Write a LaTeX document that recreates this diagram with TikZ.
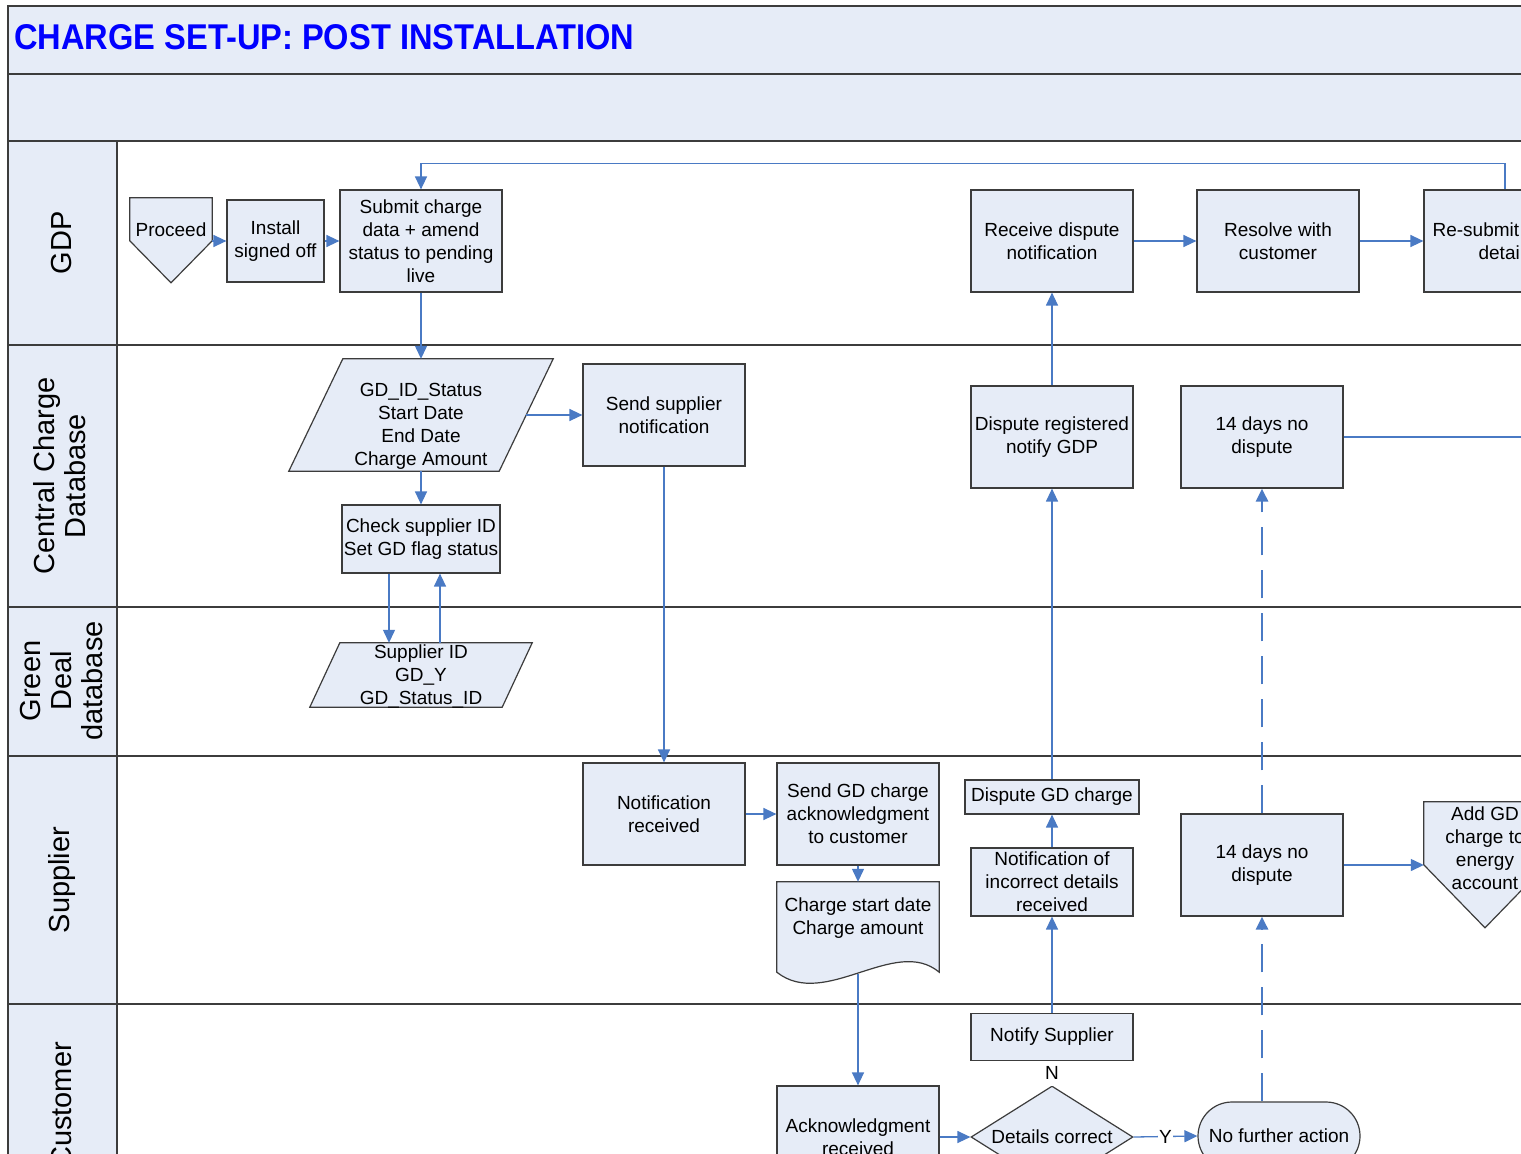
\documentclass[tikz,border=0pt]{standalone}
\usepackage{graphicx}
\usepackage{fontspec}
\setmainfont{Liberation Sans}
\usetikzlibrary{arrows.meta,shapes.geometric,calc,backgrounds}
\definecolor{boxfill}{HTML}{E6ECF7}
\definecolor{edge}{HTML}{3C3C3C}
\definecolor{flow}{HTML}{4A7AC4}
\definecolor{titleblue}{HTML}{0000FF}
\newcommand{\bodyfont}{\fontsize{19}{23}\selectfont}
\newcommand{\lanefont}{\fontsize{29}{31}\selectfont}

\begin{document}
\begin{tikzpicture}[x=1pt,y=-1pt,
  box/.style={draw=edge, fill=boxfill, line width=1.2pt, minimum width=162pt,
    minimum height=102pt, inner sep=2pt, align=center, font=\bodyfont},
  ghost/.style={inner sep=0pt, align=center, font=\bodyfont},
  outline/.style={draw=edge, fill=boxfill, line width=1.2pt},
  flowline/.style={draw=flow, line width=1.3pt},
  flowarrow/.style={flowline, -{Triangle[length=13pt,width=12pt]}},
  dashflow/.style={flowarrow, line width=2.8pt, dash pattern=on 28pt off 15pt},
  lanerule/.style={draw=edge, line width=1.8pt},
  lanelabel/.style={rotate=90, align=center, font=\lanefont},
  tag/.style={fill=white, font=\bodyfont, inner sep=1pt}
]
\useasboundingbox (0,0) rectangle (1521,1154);
\clip (0,0) rectangle (1521,1154);

% ---------- title ----------
\node[anchor=west, inner sep=0pt, text=titleblue] (title) at (14,37.5)
  {\resizebox{620pt}{25pt}{\bfseries CHARGE SET-UP: POST INSTALLATION}};

% ---------- lane labels ----------
\node[lanelabel] (lgdp) at (62,243) {GDP};
\node[lanelabel] (lccd) at (60,476) {Central Charge\\Database};
\node[lanelabel] (lgdd) at (62,681) {Green\\Deal\\database};
\node[lanelabel] (lsup) at (62,880) {Supplier};
\node[lanelabel] (lcus) at (62,1105) {Customer};

% ---------- GDP lane ----------
\node[ghost, minimum width=82pt, minimum height=64pt] (proceed) at (171,230) {Proceed};
\node[box, minimum width=97pt, minimum height=82pt] (install) at (275.5,241) {Install\\signed off};
\node[box] (submit) at (421,241) {Submit charge\\data + amend\\status to pending\\live};
\node[box] (recv) at (1052,241) {Receive dispute\\notification};
\node[box] (resolve) at (1278,241) {Resolve with\\customer};
\node[box] (resub) at (1505,241) {};
\node[ghost, anchor=west, align=left] (resubtext) at ($(resub.west)+(9,0)$)
  {Re-submit\\\hspace*{46pt}details};

% ---------- Central Charge Database lane ----------
\node[ghost, minimum width=210pt, minimum height=112pt,
  label={[ghost, yshift=-11pt]center:{GD\_ID\_Status\\Start Date\\End Date\\Charge Amount}}]
  (gdrec) at (421,415) {};
\node[box] (sendsup) at (664,415) {Send supplier\\notification};
\node[box, minimum width=158pt, minimum height=68pt, inner xsep=0pt] (check) at (421,539)
  {Check supplier ID\\Set GD flag status};
\node[box] (dispreg) at (1052,437) {Dispute registered\\notify GDP};
\node[box] (days1) at (1262,437) {14 days no\\dispute};

% ---------- Green Deal database lane ----------
\node[ghost, minimum width=192pt, minimum height=64pt,
  label={[ghost, yshift=-1pt]center:{Supplier ID\\GD\_Y\\GD\_Status\_ID}}]
  (supid) at (421,675) {};

% ---------- Supplier lane ----------
\node[box] (notrec) at (664,814) {Notification\\received};
\node[box] (sendgd) at (858,814) {Send GD charge\\acknowledgment\\to customer};
\node[ghost, minimum width=162pt, minimum height=72pt,
  label={[ghost]center:{Charge start date\\Charge amount}}] (doc) at (858,918) {};
\node[box, minimum width=174pt, minimum height=34pt] (dispgd) at (1052,797) {Dispute GD charge};
\node[box, minimum height=68pt] (notinc) at (1052,882) {Notification of\\incorrect details\\received};
\node[box] (days2) at (1262,865) {14 days no\\dispute};
\node[ghost, minimum width=122pt, minimum height=92pt,
  label={[ghost]center:{Add GD\\charge to\\energy\\account}}] (addgd) at (1485,848) {};

% ---------- Customer lane ----------
\node[box, minimum height=47pt] (notify) at (1052,1037) {Notify Supplier};
\node[box] (ack) at (858,1137) {Acknowledgment\\received};
\node[draw=edge, fill=boxfill, line width=1.2pt, diamond, aspect=1.59, minimum width=162pt,
  minimum height=102pt, inner sep=0pt, font=\bodyfont] (dc) at (1052,1137) {Details correct};
\node[box, rounded corners=34pt, minimum height=68pt] (nfa) at (1279,1136) {No further action};

% ---------- swimlane grid and drawn outlines ----------
\begin{pgfonlayer}{background}
  \fill[white] (0,0) rectangle (1521,1154);
  \fill[boxfill] (8,6) rectangle (1540,141);
  \fill[boxfill] (8,141) rectangle (117,1200);
  \draw[lanerule] (1540,6) -- (8,6) -- (8,1200);
  \foreach \y in {74,141,345,607,756,1004} \draw[lanerule] (8,\y) -- (1540,\y);
  \draw[lanerule] (117,141) -- (117,1200);
  % off-page connectors
  \path[outline] (proceed.north west) -- (proceed.north east)
    -- ($(proceed.north east)+(0,43)$) -- ($(proceed.north)+(0,85)$)
    -- ($(proceed.north west)+(0,43)$) -- cycle;
  \path[outline] (addgd.north west) -- (addgd.north east)
    -- ($(addgd.north east)+(0,63)$) -- ($(addgd.north)+(0,126)$)
    -- ($(addgd.north west)+(0,63)$) -- cycle;
  % data records
  \path[outline] ($(gdrec.north west)+(27,0)$) -- ($(gdrec.north east)+(27,0)$)
    -- ($(gdrec.south east)+(-27,0)$) -- ($(gdrec.south west)+(-27,0)$) -- cycle;
  \path[outline] ($(supid.north west)+(15,0)$) -- ($(supid.north east)+(15,0)$)
    -- ($(supid.south east)+(-15,0)$) -- ($(supid.south west)+(-15,0)$) -- cycle;
  % document
  \path[outline] (doc.north west) -- (doc.north east) -- ($(doc.south east)+(0,18)$)
    .. controls ($(doc.south east)+(-44,-19)$) and ($(doc.south west)+(48,56)$)
    .. ($(doc.south west)+(0,18)$) -- cycle;
\end{pgfonlayer}

% ---------- connectors ----------
\coordinate (c1) at ($(check.south)+(-32,0)$);
\coordinate (c2) at ($(check.south)+(19,0)$);
\coordinate (docbot) at ($(doc.south)+(0,20)$);
\coordinate (exitR) at (1540,437);

\draw[flowarrow] (install.west -| proceed.east) -- (install.west);
\draw[flowarrow] (install.east) -- (submit.west);
\draw[flowarrow] (submit.south) -- (gdrec.north);
\draw[flowarrow] (gdrec.south) -- (check.north);
\draw[flowarrow] (gdrec.east) -- (sendsup.west);
\draw[flowarrow] (c1) -- (c1 |- supid.north);
\draw[flowarrow] (c2 |- supid.north) -- (c2);
\draw[flowarrow] (sendsup.south) -- (notrec.north);
\draw[flowarrow] (notrec.east) -- (sendgd.west);
\draw[flowarrow] (sendgd.south) -- (doc.north);
\draw[flowarrow] (docbot) -- (ack.north);
\draw[flowarrow] (ack.east) -- (dc.west);
\draw[flowline] (dc.north) -- node[tag, minimum height=25pt] {N} (notify.south);
\draw[flowarrow] (notify.north) -- (notinc.south);
\draw[flowarrow] (notinc.north) -- (dispgd.south);
\draw[flowarrow] (dispgd.north) -- (dispreg.south);
\draw[flowarrow] (dispreg.north) -- (recv.south);
\draw[flowarrow] (recv.east) -- (resolve.west);
\draw[flowarrow] (resolve.east) -- (resub.west);
\draw[flowarrow] (resub.north) -- ++(0,-26) -| (submit.north);
\draw[flowline] (days1.east) -- (exitR);
\draw[dashflow] (days2.north) -- (days1.south);
\draw[flowarrow] (days2.east) -- (days2.east -| addgd.west);
\draw[flowarrow] (dc.east) -- node[tag] {Y} (nfa.west);
\draw[dashflow] (days2.south |- nfa.north) -- (days2.south);
\end{tikzpicture}
\end{document}
